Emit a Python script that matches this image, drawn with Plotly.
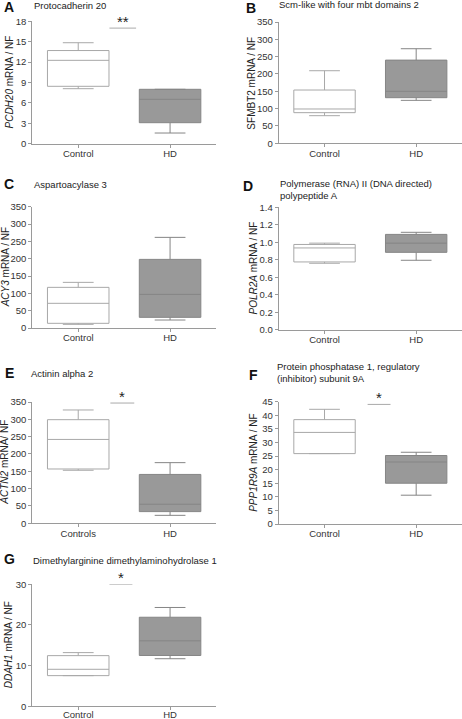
import plotly.graph_objects as go

W, H = 462, 719
groups = ["Control", "HD"]
groups_E = ["Controls", "HD"]

# Box statistics per panel: [Control, HD]
A_low, A_q1, A_med, A_q3, A_up = [8.09, 1.57], [8.44, 3.09], [12.26, 6.53], [13.7, 8.0], [14.85, 8.0]
B_low, B_q1, B_med, B_q3, B_up = [79.7, 124], [88.4, 131.6], [99, 150], [153.7, 240], [209.4, 272.9]
C_low, C_q1, C_med, C_q3, C_up = [10.6, 23], [13.5, 30.8], [71.2, 97], [117.3, 198], [131.7, 261.5]
D_low, D_q1, D_med, D_q3, D_up = [0.76, 0.794], [0.775, 0.885], [0.935, 0.99], [0.975, 1.09], [0.99, 1.114]
E_low, E_q1, E_med, E_q3, E_up = [153, 23], [156.7, 33.7], [242, 55], [299, 141], [327, 175]
F_low, F_q1, F_med, F_q3, F_up = [25.9, 10.6], [25.9, 15.0], [33.7, 22.8], [38.4, 25.2], [42.2, 26.4]
G_low, G_q1, G_med, G_q3, G_up = [7.54, 11.7], [7.54, 12.5], [9.1, 16.1], [12.46, 21.9], [13.2, 24.3]

panel_letters = ["A", "B", "C", "D", "E", "F", "G"]
panel_titles = [
    "Protocadherin 20",
    "Scm-like with four mbt domains 2",
    "Aspartoacylase 3",
    "Polymerase (RNA) II (DNA directed)<br>polypeptide A",
    "Actinin alpha 2",
    "Protein phosphatase 1, regulatory<br>(inhibitor) subunit 9A",
    "Dimethylarginine dimethylaminohydrolase 1",
]
y_titles = [
    "<i>PCDH20</i> mRNA / NF",
    "SFMBT2 mRNA / NF",
    "<i>ACY3</i> mRNA / NF",
    "<i>POLR2A</i> mRNA / NF",
    "<i>ACTN2</i> mRNA/ NF",
    "<i>PPP1R9A</i> mRNA / NF",
    "<i>DDAH1</i> mRNA / NF",
]
y_max = [18, 350, 350, 1.4, 350, 45, 30]
y_step = [3, 50, 50, 0.2, 50, 5, 10]
# significance marks (x relative to Control=0, HD=1)
sig_panels = [0, 4, 5, 6]
sig_x0 = [0.34, 0.35, 0.47, 0.34]
sig_x1 = [0.63, 0.61, 0.72, 0.59]
sig_y = [17.0, 347, 44.0, 30.0]
sig_text = ["**", "*", "*", "*"]

stats = [
    (A_low, A_q1, A_med, A_q3, A_up),
    (B_low, B_q1, B_med, B_q3, B_up),
    (C_low, C_q1, C_med, C_q3, C_up),
    (D_low, D_q1, D_med, D_q3, D_up),
    (E_low, E_q1, E_med, E_q3, E_up),
    (F_low, F_q1, F_med, F_q3, F_up),
    (G_low, G_q1, G_med, G_q3, G_up),
]

# layout in pixels
col_x = {0: (32.3, 216.0), 1: (278.7, 462.0)}
panel_col = [0, 1, 0, 1, 0, 1, 0]
panel_y = [(21.3, 143.7), (22.0, 143.3), (206.7, 328.0), (207.3, 329.7),
           (402.0, 523.3), (401.7, 524.0), (584.3, 706.3)]
letter_pos = [(2, 7), (244, 8), (2, 184), (241, 186), (3, 373), (247, 375), (2, 559)]
title_pos = [(32, 6), (277, 5), (32, 184), (278, 176), (29, 373), (275, 359), (31, 560)]
ylab_x = [9, 252, 5, 253, 5, 254, 8]
xlab_standoff = [-2, -2, -2, -2, -2, -2, -4]

FONT = "Liberation Sans, Arial, sans-serif"
fill_colors = ["#ffffff", "#999999"]
line_colors = ["#a8a8a8", "#858585"]
axis_color = "#9a9a9a"

fig = go.Figure()
layout = dict(
    template="none",
    width=W, height=H, autosize=False,
    margin=dict(l=0, r=0, t=0, b=0, pad=0),
    paper_bgcolor="white", plot_bgcolor="white",
    showlegend=False, boxmode="overlay",
    font=dict(family=FONT, size=9.5, color="#333333"),
)
annotations = []
shapes = []

for i in range(7):
    n = i + 1
    xa = "x" if n == 1 else f"x{n}"
    ya = "y" if n == 1 else f"y{n}"
    cats = groups_E if i == 4 else groups
    low, q1, med, q3, up = stats[i]
    for j in range(2):
        fig.add_trace(go.Box(
            x=[cats[j]], q1=[q1[j]], median=[med[j]], q3=[q3[j]],
            lowerfence=[low[j]], upperfence=[up[j]],
            width=0.67, whiskerwidth=0.5, boxpoints=False,
            fillcolor=fill_colors[j], line=dict(color=line_colors[j], width=1),
            xaxis=xa, yaxis=ya, hoverinfo="skip",
        ))
    x0p, x1p = col_x[panel_col[i]]
    y0p, y1p = panel_y[i]
    xk = "xaxis" if n == 1 else f"xaxis{n}"
    yk = "yaxis" if n == 1 else f"yaxis{n}"
    layout[xk] = dict(
        domain=[x0p / W, x1p / W], anchor=ya, type="category",
        categoryorder="array", categoryarray=cats, automargin=False,
        range=[-0.5, 1.5], showline=True, linecolor=axis_color, linewidth=1,
        ticks="outside", ticklen=3, tickcolor=axis_color, showgrid=False,
        zeroline=False, fixedrange=True, ticklabelstandoff=xlab_standoff[i],
        tickfont=dict(family=FONT, size=9.5, color="#333333"),
    )
    fmt = ".1f" if i == 3 else ""
    layout[yk] = dict(
        domain=[1 - y1p / H, 1 - y0p / H], anchor=xa, automargin=False,
        range=[0, y_max[i]], dtick=y_step[i], tick0=0, tickformat=fmt,
        showline=True, linecolor=axis_color, linewidth=1,
        ticks="outside", ticklen=3, tickcolor=axis_color, showgrid=False,
        zeroline=False, fixedrange=True,
        tickfont=dict(family=FONT, size=9.5, color="#333333"),
    )
    lx, ly = letter_pos[i]
    annotations.append(dict(
        text=f"<b>{panel_letters[i]}</b>", x=lx / W, y=1 - ly / H,
        xref="paper", yref="paper", xanchor="left", yanchor="middle",
        showarrow=False, font=dict(family=FONT, size=14, color="#111111"),
    ))
    tx, ty = title_pos[i]
    annotations.append(dict(
        text=panel_titles[i], x=tx / W, y=1 - ty / H,
        xref="paper", yref="paper", xanchor="left",
        yanchor="top" if "<br>" in panel_titles[i] else "middle",
        align="left", showarrow=False,
        font=dict(family=FONT, size=9.5, color="#222222"),
    ))
    annotations.append(dict(
        text=y_titles[i], x=ylab_x[i] / W, y=1 - (y0p + y1p) / 2 / H,
        xref="paper", yref="paper", xanchor="center", yanchor="middle",
        textangle=-90, showarrow=False,
        font=dict(family=FONT, size=10, color="#222222"),
    ))

for k, p in enumerate(sig_panels):
    n = p + 1
    xa = "x" if n == 1 else f"x{n}"
    ya = "y" if n == 1 else f"y{n}"
    shapes.append(dict(
        type="line", xref=xa, yref=ya,
        x0=sig_x0[k], x1=sig_x1[k], y0=sig_y[k], y1=sig_y[k],
        line=dict(color="#aaaaaa", width=1),
    ))
    annotations.append(dict(
        text=sig_text[k], xref=xa, yref=ya,
        x=(sig_x0[k] + sig_x1[k]) / 2, y=sig_y[k],
        xanchor="center", yanchor="bottom", yshift=-4, showarrow=False,
        font=dict(family=FONT, size=15, color="#222222"),
    ))

layout["annotations"] = annotations
layout["shapes"] = shapes
fig.update_layout(**layout)
fig.write_html(
    "out.html",
    config={"displayModeBar": False},
    post_script="document.body.style.margin='0';document.body.style.overflow='hidden';",
)
